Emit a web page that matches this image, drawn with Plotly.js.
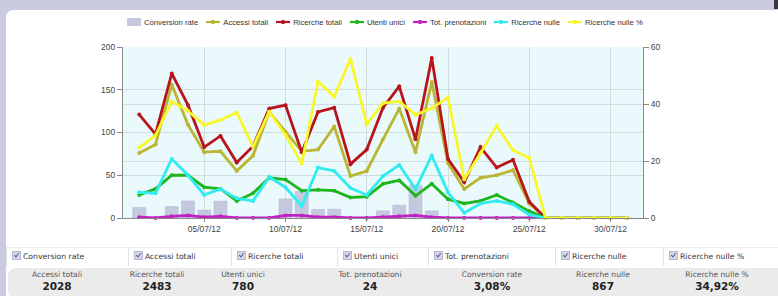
<!DOCTYPE html>
<html>
<head>
<meta charset="utf-8">
<script src="https://cdn.plot.ly/plotly-3.0.1.min.js"></script>
<style>
html,body{margin:0;padding:0;width:778px;height:296px;overflow:hidden;background:#c9cbe0;}
#panel{position:absolute;left:6px;top:10px;width:790px;height:300px;background:#fff;border-radius:7px 0 0 0;}
#corner{position:absolute;left:774px;top:0;width:4px;height:9px;background:#3a3a3a;}
#chart{position:absolute;left:0;top:0;width:778px;height:240px;}
#legend{position:absolute;left:123px;top:17px;width:520px;height:12px;text-align:center;white-space:nowrap;font-family:'Liberation Sans',Arial,sans-serif;font-size:7.7px;color:#333;line-height:12px;}
.li{display:inline-block;margin:0 4px;}
.li svg{vertical-align:-1px;margin-right:3px;}
#checks{position:absolute;left:6px;top:247px;height:19px;width:772px;font-family:'DejaVu Sans',sans-serif;font-size:7.7px;color:#333;}
.cell{position:absolute;top:0;height:19px;border-left:1px solid #e2e2e2;border-top:1px solid #ececec;box-sizing:border-box;line-height:18px;padding-left:5px;white-space:nowrap;}
.cb{display:inline-block;width:7px;height:7px;background:#d4d7ea;border:1px solid #b3b7cf;margin-right:2px;vertical-align:-1px;position:relative;}
.cb:after{content:'';position:absolute;left:2px;top:0px;width:2px;height:4px;border:solid #5a5f90;border-width:0 1px 1px 0;transform:rotate(40deg);}
#stats{position:absolute;left:8px;top:268px;width:780px;height:30px;background:#ebebeb;border-radius:8px 0 0 8px;font-family:'DejaVu Sans',sans-serif;}
.st{position:absolute;top:0;text-align:center;transform:translateX(-50%);white-space:nowrap;}
.lab{font-size:7.6px;color:#555;line-height:10px;margin-top:2px;}
.val{font-size:10.5px;font-weight:bold;color:#222;line-height:12px;}
</style>
</head>
<body>
<div id="panel"></div>
<div id="corner"></div>
<div id="chart"></div>
<div id="legend"></div>
<div id="checks"></div>
<div id="stats"></div>
<script>
// ---- data ----
const days = ['2012-07-01','2012-07-02','2012-07-03','2012-07-04','2012-07-05','2012-07-06','2012-07-07','2012-07-08','2012-07-09','2012-07-10',
  '2012-07-11','2012-07-12','2012-07-13','2012-07-14','2012-07-15','2012-07-16','2012-07-17','2012-07-18','2012-07-19','2012-07-20',
  '2012-07-21','2012-07-22','2012-07-23','2012-07-24','2012-07-25','2012-07-26','2012-07-27','2012-07-28','2012-07-29','2012-07-30','2012-07-31'];
const conversionRate = [3.7,0,4.0,6.0,2.8,5.9,0,0,0,6.7,9.4,3.0,3.1,0,0,2.5,4.5,11.5,2.5,0,0,0,0,0,0,0,0,0,0,0,0];
const accessiTotali = [76,86,156,109,77,78,55,73,124,101,78,80,107,49,55,92,128,77,159,64,34,47,50,56,17,0,0,0,0,0,0];
const ricercheTotali = [121,98,169,132,83,96,65,84,128,132,77,124,129,63,80,129,154,92,187,69,42,83,59,68,19,0,0,0,0,0,0];
const utentiUnici = [27,34,50,50,36,34,20,29,47,45,32,33,32,24,25,40,44,26,40,22,17,20,27,18,8,0,0,0,0,0,0];
const totPrenotazioni = [1,0,2,3,1,2,0,0,0,3,3,1,1,0,0,1,2,3,1,0,0,0,0,0,0,0,0,0,0,0,0];
const ricercheNulle = [30,29,69,50,27,34,23,20,48,36,14,59,55,35,27,49,62,34,73,30,6,17,20,16,4,0,0,0,0,0,0];
const ricercheNullePct = [24.7,29,40.9,37.6,32.6,34.4,37,25,37.3,29.1,19.1,47.9,42.6,55.9,32.9,40.3,40.9,36.2,38.5,42.3,13.6,22.7,32.4,23.8,21.1,0,0,0,0,0,0];

const tickDates = ['2012-07-05','2012-07-10','2012-07-15','2012-07-20','2012-07-25','2012-07-30'];
const tickLabels = ['05/07/12','10/07/12','15/07/12','20/07/12','25/07/12','30/07/12'];
const leftTicks = [0,50,100,150,200];
const rightTicks = [0,20,40,60];

const seriesNames = ['Conversion rate','Accessi totali','Ricerche totali','Utenti unici','Tot. prenotazioni','Ricerche nulle','Ricerche nulle %'];
const statLabels = ['Accessi totali','Ricerche totali','Utenti unici','Tot. prenotazioni','Conversion rate','Ricerche nulle','Ricerche nulle %'];
const statValues = ['2028','2483','780','24','3,08%','867','34,92%'];

// ---- chart ----
const seriesColors = ['#c4c9df','#b9b634','#b8141c','#1fb51f','#c21fc2','#30ecf0','#f7f72a'];
function line(i, y, axis){
  const c = seriesColors[i];
  return {type:'scatter', mode:'lines+markers', name:seriesNames[i], x:days, y:y, yaxis:axis,
    line:{color:c, width:2.8}, marker:{color:c, size:4}, cliponaxis:false};
}
const DAY = 86400000;
const traces = [
  {type:'bar', name:seriesNames[0], x:days, y:conversionRate, yaxis:'y', width:0.8*DAY,
   marker:{color:seriesColors[0], line:{color:'#b2b7d0', width:0.5}}},
  line(1, accessiTotali, 'y2'),
  line(2, ricercheTotali, 'y2'),
  line(3, utentiUnici, 'y2'),
  line(4, totPrenotazioni, 'y2'),
  line(5, ricercheNulle, 'y2'),
  line(6, ricercheNullePct, 'y3')
];
const grid = '#d3dcdc', axc = '#8a8a8a';
const layout = {
  width:778, height:240,
  margin:{l:123, r:135, t:47, b:22},
  paper_bgcolor:'rgba(0,0,0,0)',
  plot_bgcolor:'#eafafc',
  font:{family:'Liberation Sans, Arial, sans-serif', size:8.5, color:'#444'},
  showlegend:false,
  xaxis:{type:'date', range:['2012-06-30','2012-08-01'], tickvals:tickDates, ticktext:tickLabels,
    showgrid:true, gridcolor:grid, showline:true, linecolor:axc, ticks:'outside', ticklen:3, tickcolor:axc, zeroline:false},
  yaxis:{side:'right', range:[0,60], tickvals:rightTicks, showgrid:true, gridcolor:grid,
    showline:true, linecolor:axc, ticks:'outside', ticklen:5, tickcolor:axc, zeroline:false},
  yaxis2:{overlaying:'y', side:'left', range:[0,200], tickvals:leftTicks, showgrid:true, gridcolor:grid,
    showline:true, linecolor:axc, ticks:'outside', ticklen:5, tickcolor:axc, zeroline:false},
  yaxis3:{overlaying:'y', side:'right', range:[0,60], visible:false}
};
Plotly.newPlot('chart', traces, layout, {staticPlot:true, displayModeBar:false});

// ---- legend (one row, as in the original widget) ----
const lg = document.getElementById('legend');
seriesNames.forEach((n,i)=>{
  const c = seriesColors[i];
  const sym = i===0
    ? '<svg width="14" height="8"><rect x="0" y="0" width="14" height="8" fill="'+c+'"/></svg>'
    : '<svg width="14" height="8"><line x1="0" y1="4" x2="14" y2="4" stroke="'+c+'" stroke-width="2.2"/><rect x="5.5" y="2" width="3" height="4" fill="'+c+'"/></svg>';
  const s = document.createElement('span');
  s.className='li';
  s.innerHTML = sym + n;
  lg.appendChild(s);
});

// ---- checkbox row ----
const cellLeft = [0,122,225,331,422,549,657];
const checks = document.getElementById('checks');
seriesNames.forEach((n,i)=>{
  const d = document.createElement('div');
  d.className='cell';
  d.style.left = cellLeft[i]+'px';
  d.style.width = ((i<6?cellLeft[i+1]:772)-cellLeft[i])+'px';
  d.innerHTML = '<span class="cb"></span>'+n;
  checks.appendChild(d);
});
// ---- stats row ----
const statCenters = [49,149,235,362,484,595,709];
const stats = document.getElementById('stats');
statLabels.forEach((l,i)=>{
  const d = document.createElement('div');
  d.className='st';
  d.style.left = statCenters[i]+'px';
  d.innerHTML = '<div class="lab">'+l+'</div><div class="val">'+statValues[i]+'</div>';
  stats.appendChild(d);
});
</script>
</body>
</html>
